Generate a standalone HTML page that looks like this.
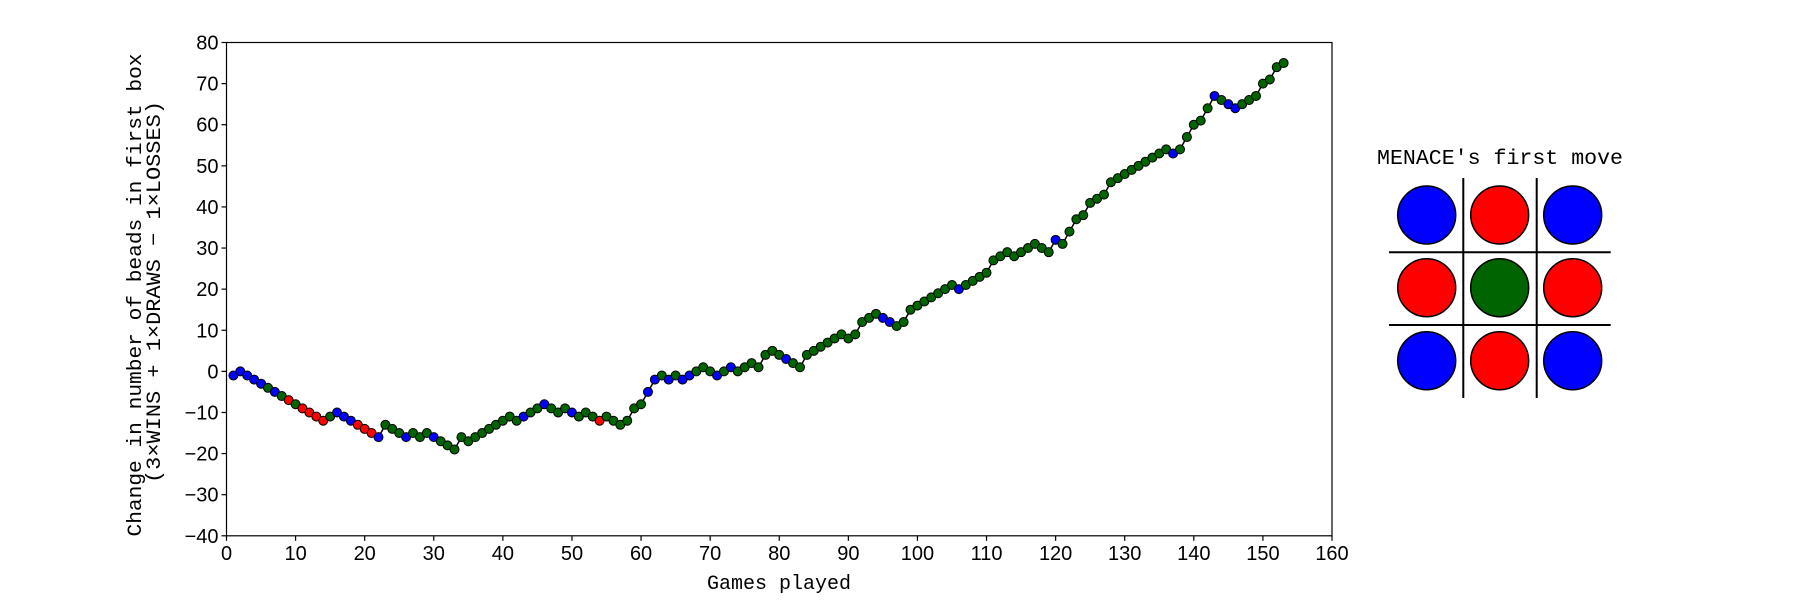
<!DOCTYPE html>
<html><head><meta charset="utf-8">
<style>
html,body{margin:0;padding:0;background:#fff;}
svg{display:block;}
</style></head>
<body>
<svg id="chart" width="1800" height="600" viewBox="0 0 1800 600" xmlns="http://www.w3.org/2000/svg">
  <rect x="0" y="0" width="1800" height="600" fill="#fff"/>
  <g id="xticks"></g>
  <g id="yticks"></g>
  <g id="series"></g>
  <rect x="226.5" y="42.5" width="1105.5" height="493.3" fill="none" stroke="#000" stroke-width="1.2"/>
  <text x="779" y="589" font-family="Liberation Mono, monospace" font-size="20" text-anchor="middle">Games played</text>
  <text transform="translate(141,295) rotate(-90)" font-family="Liberation Mono, monospace" font-size="20" text-anchor="middle" textLength="483" lengthAdjust="spacingAndGlyphs">Change in number of beads in first box</text>
  <text transform="translate(160,292) rotate(-90)" font-family="Liberation Mono, monospace" font-size="20" text-anchor="middle" textLength="382" lengthAdjust="spacingAndGlyphs">(3×WINS + 1×DRAWS − 1×LOSSES)</text>
  <g>
    <text x="1377" y="164" font-family="Liberation Mono, monospace" font-size="21" textLength="246" lengthAdjust="spacingAndGlyphs">MENACE's first move</text>
    <g stroke="#000" stroke-width="2">
      <line x1="1463.3" y1="178" x2="1463.3" y2="398"/>
      <line x1="1536.7" y1="178" x2="1536.7" y2="398"/>
      <line x1="1389" y1="252.3" x2="1610.7" y2="252.3"/>
      <line x1="1389" y1="325" x2="1610.7" y2="325"/>
    </g>
    <g stroke="#000" stroke-width="1.5">
      <circle cx="1426.7" cy="215" r="29" fill="#0000ff"/>
      <circle cx="1499.7" cy="215" r="29" fill="#ff0000"/>
      <circle cx="1572.7" cy="215" r="29" fill="#0000ff"/>
      <circle cx="1426.7" cy="287.7" r="29" fill="#ff0000"/>
      <circle cx="1499.7" cy="287.7" r="29" fill="#006400"/>
      <circle cx="1572.7" cy="287.7" r="29" fill="#ff0000"/>
      <circle cx="1426.7" cy="360.7" r="29" fill="#0000ff"/>
      <circle cx="1499.7" cy="360.7" r="29" fill="#ff0000"/>
      <circle cx="1572.7" cy="360.7" r="29" fill="#0000ff"/>
    </g>
  </g>
</svg>
<script>
const xTicks = [0,10,20,30,40,50,60,70,80,90,100,110,120,130,140,150,160];
const yTicks = [80,70,60,50,40,30,20,10,0,-10,-20,-30,-40];
const beadValues = [
 -1,0,-1,-2,-3,-4,-5,-6,-7,-8,
 -9,-10,-11,-12,-11,-10,-11,-12,-13,-14,
 -15,-16,-13,-14,-15,-16,-15,-16,-15,-16,
 -17,-18,-19,-16,-17,-16,-15,-14,-13,-12,
 -11,-12,-11,-10,-9,-8,-9,-10,-9,-10,
 -11,-10,-11,-12,-11,-12,-13,-12,-9,-8,
 -5,-2,-1,-2,-1,-2,-1,0,1,0,
 -1,0,1,0,1,2,1,4,5,4,
 3,2,1,4,5,6,7,8,9,8,
 9,12,13,14,13,12,11,12,15,16,
 17,18,19,20,21,20,21,22,23,24,
 27,28,29,28,29,30,31,30,29,32,
 31,34,37,38,41,42,43,46,47,48,
 49,50,51,52,53,54,53,54,57,60,
 61,64,67,66,65,64,65,66,67,70,
 71,74,75];
const moveTypes = (
 "bbbbbgbgrg" + "rrrrgbbbrr" + "rbgggbgggb" + "gggggggggg" + "ggbggbgggb" +
 "gggrgggggg" + "bbgbgbbggg" + "bgbggggggg" + "bggggggggg" + "ggggbbgggg" +
 "gggggbgggg" + "gggggggggb" + "gggggggggg" + "ggggggbggg" + "ggbgbbgggg" + "ggg").split("");

const X0 = 226.5, X1 = 1332, Y0 = 42.5, Y1 = 535.8;
const XMIN = 0, XMAX = 160, YMIN = -40, YMAX = 80;
function xScale(v){ return X0 + (v - XMIN) / (XMAX - XMIN) * (X1 - X0); }
function yScale(v){ return Y1 - (v - YMIN) / (YMAX - YMIN) * (Y1 - Y0); }
const NS = "http://www.w3.org/2000/svg";
const colorMap = {b:"#0000ff", r:"#ff0000", g:"#006400"};

const xg = document.getElementById("xticks");
xTicks.forEach(t => {
  const x = xScale(t);
  const l = document.createElementNS(NS, "line");
  
  
  l.setAttribute("x1", x); l.setAttribute("x2", x);
  l.setAttribute("y1", Y1); l.setAttribute("y2", Y1 + 5);
  l.setAttribute("stroke", "#000"); l.setAttribute("stroke-width", "1.2");
  xg.appendChild(l);
  const tx = document.createElementNS(NS, "text");
  
  
  tx.setAttribute("x", x); tx.setAttribute("y", Y1 + 24);
  tx.setAttribute("text-anchor", "middle");
  tx.setAttribute("font-family", "Liberation Sans, sans-serif");
  tx.setAttribute("font-size", "20");
  tx.textContent = String(t);
  xg.appendChild(tx);
});
const yg = document.getElementById("yticks");
yTicks.forEach(t => {
  const y = yScale(t);
  const l = document.createElementNS(NS, "line");
  
  
  l.setAttribute("x1", X0 - 5); l.setAttribute("x2", X0);
  l.setAttribute("y1", y); l.setAttribute("y2", y);
  l.setAttribute("stroke", "#000"); l.setAttribute("stroke-width", "1.2");
  yg.appendChild(l);
  const tx = document.createElementNS(NS, "text");
  
  
  tx.setAttribute("x", X0 - 8); tx.setAttribute("y", y + 7);
  tx.setAttribute("text-anchor", "end");
  tx.setAttribute("font-family", "Liberation Sans, sans-serif");
  tx.setAttribute("font-size", "20");
  tx.textContent = t < 0 ? "\u2212" + Math.abs(t) : String(t);
  yg.appendChild(tx);
});

const sg = document.getElementById("series");
const pts = beadValues.map((v, i) => xScale(i + 1).toFixed(2) + "," + yScale(v).toFixed(2)).join(" ");
const pl = document.createElementNS(NS, "polyline");


pl.setAttribute("points", pts);
pl.setAttribute("fill", "none");
pl.setAttribute("stroke", "#000");
pl.setAttribute("stroke-width", "1.5");
sg.appendChild(pl);
beadValues.forEach((v, i) => {
  const c = document.createElementNS(NS, "circle");
  
  
  c.setAttribute("cx", xScale(i + 1));
  c.setAttribute("cy", yScale(v));
  c.setAttribute("r", "4.5");
  c.setAttribute("fill", colorMap[moveTypes[i]] || "#006400");
  c.setAttribute("stroke", "#000");
  c.setAttribute("stroke-width", "1");
  sg.appendChild(c);
});
</script>
</body></html>
